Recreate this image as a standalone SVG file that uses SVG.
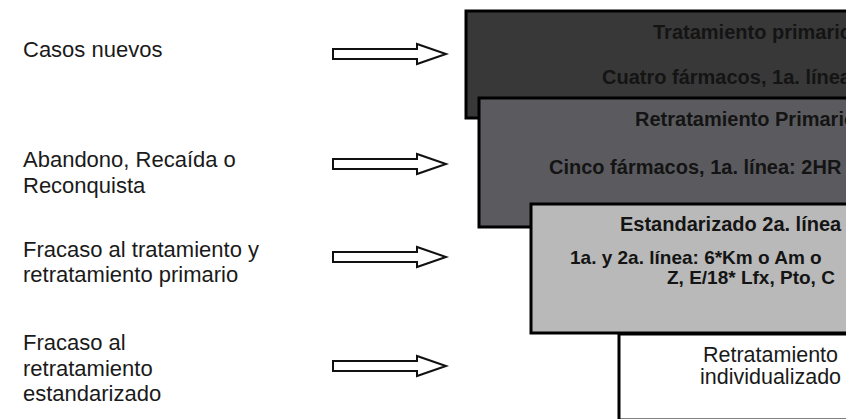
<svg xmlns="http://www.w3.org/2000/svg" xmlns:xlink="http://www.w3.org/1999/xlink" width="846" height="419" viewBox="0 0 846 419">
<style>
.lbl{font-family:"Liberation Sans",Arial,sans-serif;font-size:22px;fill:#1a1a1a}
.bt{font-family:"Liberation Sans",Arial,sans-serif;font-size:20px;font-weight:bold;fill:#141414}
.bs{font-family:"Liberation Sans",Arial,sans-serif;font-size:19px;font-weight:bold;fill:#141414}
.nt{font-family:"Liberation Sans",Arial,sans-serif;font-size:21.5px;fill:#1a1a1a}
.box{stroke:#000;stroke-width:3}
.arr{fill:#fff;stroke:#111;stroke-width:2;stroke-linejoin:miter}
</style>
<defs>
<path id="ar" d="M333,-5 H417 V-10 L446,0 L417,10 V5 H333 Z"/>
</defs>
<rect width="846" height="419" fill="#fff"/>
<g id="labels">
<text class="lbl" x="23" y="57">Casos nuevos</text>
<text class="lbl" x="23" y="167">Abandono, Recaída o</text>
<text class="lbl" x="23" y="193">Reconquista</text>
<text class="lbl" x="23" y="257">Fracaso al tratamiento y</text>
<text class="lbl" x="23" y="282">retratamiento primario</text>
<text class="lbl" x="23" y="350">Fracaso al</text>
<text class="lbl" x="23" y="376">retratamiento</text>
<text class="lbl" x="23" y="401">estandarizado</text>
</g>
<g id="connectors">
<use xlink:href="#ar" class="arr" transform="translate(0,54)"/>
<use xlink:href="#ar" class="arr" transform="translate(0,164)"/>
<use xlink:href="#ar" class="arr" transform="translate(0,257)"/>
<use xlink:href="#ar" class="arr" transform="translate(0,366)"/>
</g>
<g id="node1">
<rect class="box" x="466" y="11" width="400" height="107" fill="#383838"/>
<text class="bt" x="653" y="39">Tratamiento primario</text>
<text class="bt" x="602" y="84">Cuatro fármacos, 1a. línea</text>
</g>
<g id="node2">
<rect class="box" x="479" y="98" width="400" height="129" fill="#5b5b5f"/>
<text class="bt" x="635" y="126">Retratamiento Primario</text>
<text class="bt" x="549" y="174">Cinco fármacos, 1a. línea: 2HR</text>
</g>
<g id="node3">
<rect class="box" x="531" y="204" width="400" height="129" fill="#b9b9b9"/>
<text class="bt" x="620" y="231">Estandarizado 2a. línea</text>
<text class="bs" x="570" y="264">1a. y 2a. línea: 6*Km o Am o</text>
<text class="bs" x="667" y="284">Z, E/18* Lfx, Pto, C</text>
</g>
<g id="node4">
<rect class="box" x="619" y="334" width="400" height="86" fill="#fff"/>
<text class="nt" x="703" y="362">Retratamiento</text>
<text class="nt" x="700" y="384">individualizado</text>
</g>
</svg>
